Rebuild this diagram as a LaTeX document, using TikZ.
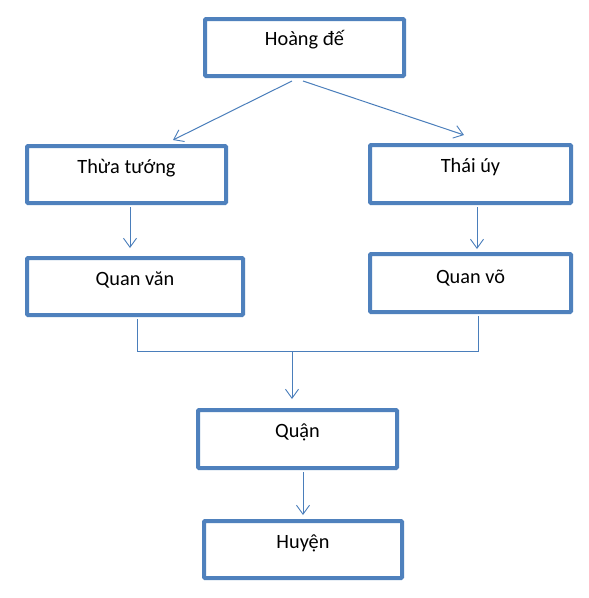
\documentclass[tikz,border=0pt]{standalone}
\usepackage{fontspec}
\setmainfont{Carlito}
\usetikzlibrary{arrows.meta}
\definecolor{boxblue}{HTML}{4F81BD}
\definecolor{lineblue}{HTML}{4A7EBB}
\begin{document}
\begin{tikzpicture}[x=1pt,y=-1pt,
  box/.style={draw=boxblue,line width=4pt,rectangle,rounded corners=1pt,inner sep=0pt,fill=white},
  lbl/.style={anchor=base,font=\fontsize{20.3}{24}\selectfont,text=black,inner sep=0pt},
  conn/.style={draw=lineblue,line width=1pt},
  arr/.style={conn,-{Straight Barb[length=9pt,width=13pt,line width=0.9pt]}}]
\useasboundingbox[fill=white] (0,0) rectangle (589,598);
% boxes
\node[box,minimum width=199pt,minimum height=57pt] (he) at (304.5,47.5) {};
\node[box,minimum width=199pt,minimum height=57pt] (tt) at (126.5,174.5) {};
\node[box,minimum width=201pt,minimum height=58pt] (ty) at (470.5,174) {};
\node[box,minimum width=216pt,minimum height=57pt] (qv) at (135,286.5) {};
\node[box,minimum width=201pt,minimum height=58pt] (qvo) at (470.5,283) {};
\node[box,minimum width=199pt,minimum height=58pt] (quan) at (297.5,439) {};
\node[box,minimum width=198pt,minimum height=57pt] (huyen) at (303,549.5) {};
% labels
\node[lbl] (the) at ([yshift=-28.5pt]he.north) {Hoàng đế};
\node[lbl] (ttt) at ([yshift=-29.5pt]tt.north) {Thừa tướng};
\node[lbl] (tty) at ([yshift=-29.5pt]ty.north) {Thái úy};
\node[lbl] (tqv) at ([yshift=-29.5pt]qv.north) {Quan văn};
\node[lbl] (tqvo) at ([yshift=-31pt]qvo.north) {Quan võ};
\node[lbl] (tquan) at ([yshift=-29.5pt]quan.north) {Quận};
\node[lbl] (thuyen) at ([yshift=-29.5pt]huyen.north) {Huyện};
% connectors
\draw[arr] ([xshift=-12.5pt,yshift=-3pt]he.south) -- ([xshift=46.5pt,yshift=4pt]tt.north);
\draw[arr] ([xshift=-1.5pt,yshift=-3pt]he.south) -- ([xshift=-6.5pt,yshift=8pt]ty.north);
\draw[arr] ([xshift=3.5pt,yshift=-2pt]tt.south) -- ([xshift=-5pt,yshift=8pt]qv.north);
\draw[arr] ([xshift=6.5pt,yshift=-2pt]ty.south) -- ([xshift=6.5pt,yshift=3pt]qvo.north);
\coordinate (jl) at (137,351);
\coordinate (jr) at (478,351);
\coordinate (jm) at (292,351);
\draw[conn] ([xshift=2pt,yshift=-2pt]qv.south) |- (jl) -- (jr) -- ([xshift=7.5pt,yshift=-2pt]qvo.south);
\draw[arr] (jm) -- ([xshift=-5.5pt,yshift=9pt]quan.north);
\draw[arr] ([xshift=5.5pt,yshift=-2pt]quan.south) -- ([xshift=0pt,yshift=4pt]huyen.north);
\end{tikzpicture}
\end{document}
